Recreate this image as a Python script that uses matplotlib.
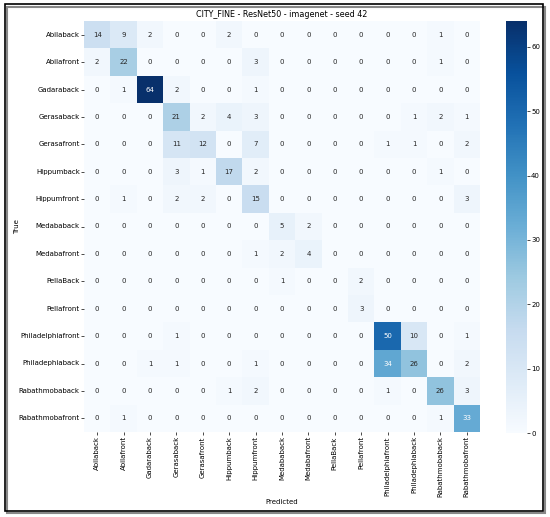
import numpy as np
import matplotlib
matplotlib.use("Agg")
import matplotlib.pyplot as plt
import seaborn as sns
from matplotlib.patches import Rectangle

labels = ["Abilaback", "Abilafront", "Gadaraback", "Gerasaback", "Gerasafront",
          "Hippumback", "Hippumfront", "Medababack", "Medabafront", "PellaBack",
          "Pellafront", "Philadelphiafront", "Philadephiaback", "Rabathmobaback",
          "Rabathmobafront"]

row_abilaback = [14, 9, 2, 0, 0, 2, 0, 0, 0, 0, 0, 0, 0, 1, 0]
row_abilafront = [2, 22, 0, 0, 0, 0, 3, 0, 0, 0, 0, 0, 0, 1, 0]
row_gadaraback = [0, 1, 64, 2, 0, 0, 1, 0, 0, 0, 0, 0, 0, 0, 0]
row_gerasaback = [0, 0, 0, 21, 2, 4, 3, 0, 0, 0, 0, 0, 1, 2, 1]
row_gerasafront = [0, 0, 0, 11, 12, 0, 7, 0, 0, 0, 0, 1, 1, 0, 2]
row_hippumback = [0, 0, 0, 3, 1, 17, 2, 0, 0, 0, 0, 0, 0, 1, 0]
row_hippumfront = [0, 1, 0, 2, 2, 0, 15, 0, 0, 0, 0, 0, 0, 0, 3]
row_medababack = [0, 0, 0, 0, 0, 0, 0, 5, 2, 0, 0, 0, 0, 0, 0]
row_medabafront = [0, 0, 0, 0, 0, 0, 1, 2, 4, 0, 0, 0, 0, 0, 0]
row_pellaback = [0, 0, 0, 0, 0, 0, 0, 1, 0, 0, 2, 0, 0, 0, 0]
row_pellafront = [0, 0, 0, 0, 0, 0, 0, 0, 0, 0, 3, 0, 0, 0, 0]
row_philfront = [0, 0, 0, 1, 0, 0, 0, 0, 0, 0, 0, 50, 10, 0, 1]
row_philback = [0, 0, 1, 1, 0, 0, 1, 0, 0, 0, 0, 34, 26, 0, 2]
row_rabback = [0, 0, 0, 0, 0, 1, 2, 0, 0, 0, 0, 1, 0, 26, 3]
row_rabfront = [0, 1, 0, 0, 0, 0, 0, 0, 0, 0, 0, 0, 0, 1, 33]

cm = np.array([row_abilaback, row_abilafront, row_gadaraback, row_gerasaback,
               row_gerasafront, row_hippumback, row_hippumfront, row_medababack,
               row_medabafront, row_pellaback, row_pellafront, row_philfront,
               row_philback, row_rabback, row_rabfront])

W, H = 550, 517
fig = plt.figure(figsize=(5.5, 5.17), dpi=100)
ax = fig.add_axes([84 / W, 1 - 432 / H, (480 - 84) / W, (432 - 21) / H])
cax = fig.add_axes([506 / W, 1 - 433 / H, (527 - 506) / W, (433 - 21) / H])

sns.heatmap(cm, annot=True, fmt="d", cmap="Blues", ax=ax, cbar_ax=cax,
            xticklabels=labels, yticklabels=labels,
            annot_kws={"fontsize": 5})
ax.set_title("CITY_FINE - ResNet50 - imagenet - seed 42", fontsize=5.8, pad=3)
ax.set_xlabel("Predicted", fontsize=5)
ax.set_ylabel("True", fontsize=5)
ax.tick_params(axis="both", labelsize=5, length=2, width=0.5, pad=1)
plt.setp(ax.get_xticklabels(), rotation=90)
plt.setp(ax.get_yticklabels(), rotation=0)
cax.tick_params(labelsize=5, length=2, width=0.5, pad=1)
ax.xaxis.set_label_coords(0.5, -(502 - 432) / 411, transform=ax.transAxes)
ax.yaxis.set_label_coords(-(84 - 17) / 396, 0.5, transform=ax.transAxes)
ax.xaxis.label.set_va("center")
ax.yaxis.label.set_va("center")

# figure frame with shadow
fig.patches.append(Rectangle((7 / W, 1 - 513 / H), (545 - 7) / W, (513 - 7) / H,
                             transform=fig.transFigure, facecolor="none",
                             edgecolor="#888888", linewidth=1.5, zorder=0))
fig.patches.append(Rectangle((5 / W, 1 - 511 / H), (543 - 5) / W, (511 - 4) / H,
                             transform=fig.transFigure, facecolor="none",
                             edgecolor="black", linewidth=1.2, zorder=1))

fig.savefig("out.png", dpi=100)
